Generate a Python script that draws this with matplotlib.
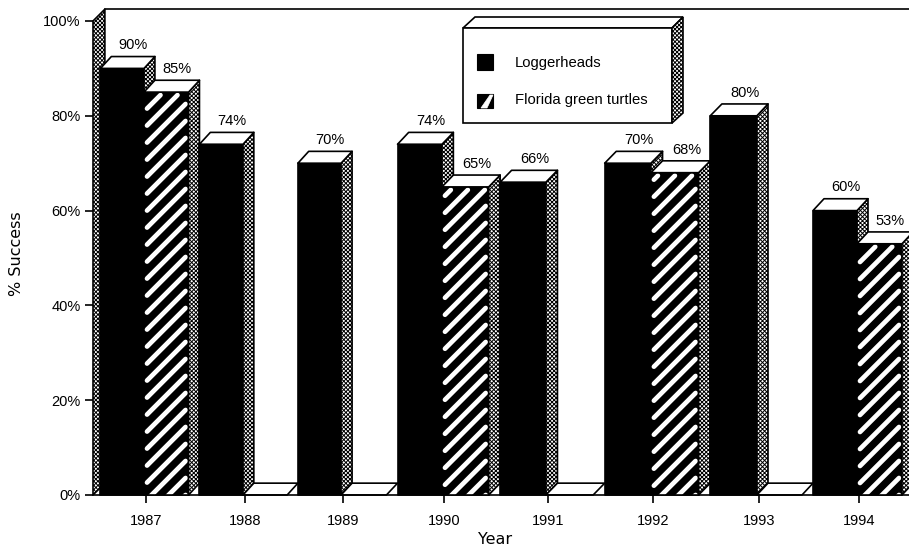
import numpy as np
import matplotlib
matplotlib.use('Agg')
import matplotlib.pyplot as plt
from matplotlib.patches import Polygon
from matplotlib.transforms import IdentityTransform

plt.rcParams['font.family'] = ['Liberation Sans', 'DejaVu Sans']
plt.rcParams['hatch.linewidth'] = 0.7

years = [1987, 1988, 1989, 1990, 1991, 1992, 1993, 1994]
loggerheads = [90, 74, 70, 74, 66, 70, 80, 60]
green_turtles = [85, 0, 0, 65, 0, 68, 0, 53]
logger_labels = ['90%', '74%', '70%', '74%', '66%', '70%', '80%', '60%']
green_labels = ['85%', '', '', '65%', '', '68%', '', '53%']
y_ticks = [0, 20, 40, 60, 80, 100]

# the scan is stretched unevenly, so the year axis follows the printed ticks
scale_years = [1986, 1987, 1988, 1989, 1990, 1991, 1992, 1993, 1994, 1995]
scale_px = [47, 146, 245, 343, 444, 548, 653, 759, 859, 959]


def year_to_px(v):
    return np.interp(v, scale_years, scale_px)


def px_to_year(v):
    return np.interp(v, scale_px, scale_years)


W, H = 909, 550
LEFT, RIGHT, TOP, BOTTOM = 93, 909, 21, 495
DX, DY = 0.11, 2.5

fig = plt.figure(figsize=(W / 100, H / 100), dpi=100)
ax = fig.add_axes([LEFT / W, 1 - BOTTOM / H, (RIGHT - LEFT) / W, (BOTTOM - TOP) / H])
ax.set_xscale('function', functions=(year_to_px, px_to_year))
x0, x1 = float(px_to_year(LEFT)), float(px_to_year(RIGHT))
ax.set_xlim(x0, x1)
ax.set_ylim(0, 100)


def stipple(p):
    p.set_hatch('xxxxxxxx')
    return p


def poly(points, **kw):
    p = Polygon(points, closed=True, clip_on=False, joinstyle='round', **kw)
    ax.add_patch(p)
    return p


def stripes(a, b, v, clip):
    # white diagonal stripes with round ends, laid out in display pixels
    xa, y0 = ax.transData.transform((a, 0))
    xb, yt = ax.transData.transform((b, v))
    xa, xb, yt = xa + 3, xb - 3, yt - 3
    for c in np.arange(y0 - xb - 17 * 3, yt - xa, 17.0):
        s = max(xa, y0 - 8 - c)
        e = min(xb, yt - c)
        if e > s:
            line = ax.plot([s, e], [s + c, e + c], color='white', lw=3.4,
                           solid_capstyle='round', transform=IdentityTransform())[0]
            line.set_clip_path(clip)


# left wall and back line
stipple(poly([(x0, 0), (x0, 100), (x0 + 0.12, 100 + DY), (x0 + 0.12, DY)],
             facecolor='white', edgecolor='black', linewidth=1.2))
ax.plot([x0 + 0.12, x1], [100 + DY, 100 + DY], color='black', lw=1.2, clip_on=False)


def bar3d(a, b, v, hatched, label, z):
    if v > 0:
        front = poly([(a, 0), (a, v), (b, v), (b, 0)], facecolor='black',
                     edgecolor='black', linewidth=1.2, zorder=z)
        if hatched:
            stripes(a, b, v, front)
            for line in ax.lines[-30:]:
                if line.get_clip_path() is not None and line.get_zorder() == 2:
                    line.set_zorder(z + 0.1)
        stipple(poly([(b, 0), (b, v), (b + DX, v + DY), (b + DX, DY)],
                     facecolor='white', edgecolor='black', linewidth=1.2, zorder=z + 0.2))
    poly([(a, v), (a + DX, v + DY), (b + DX, v + DY), (b, v)],
         facecolor='white', edgecolor='black', linewidth=1.2, zorder=z + 0.2)
    if label:
        ax.text((a + b) / 2 + DX, v + DY + 0.9, label, ha='center', va='bottom',
                fontsize=10.5, clip_on=False, zorder=20)


z = 2
for i, yr in enumerate(years):
    bar3d(yr - 0.46, yr - 0.02, loggerheads[i], False, logger_labels[i], z + 0.3)
    bar3d(yr - 0.02, yr + 0.43, green_turtles[i], True, green_labels[i], z + 0.6)
    z += 1

for s in ['top', 'right', 'left']:
    ax.spines[s].set_visible(False)
ax.spines['bottom'].set_linewidth(1.2)
ax.spines['bottom'].set_bounds(x0, x1)
ax.spines['bottom'].set_zorder(30)

ax.set_xticks(years)
ax.set_xticklabels([str(y) for y in years], fontsize=10.5)
ax.set_yticks(y_ticks)
ax.set_yticklabels([str(v) + '%' for v in y_ticks], fontsize=10.5)
ax.minorticks_off()
ax.tick_params(axis='x', length=6, width=1.2, pad=8)
ax.tick_params(axis='y', length=6, width=1.2, pad=3)

fig.text(495 / W, 1 - 540 / H, 'Year', ha='center', va='center', fontsize=11.5,
         family=['DejaVu Sans'])
fig.text(17 / W, 1 - 254 / H, '% Success', rotation=90, ha='center', va='center',
         fontsize=11.5, family=['DejaVu Sans'])


# legend box, placed in figure pixels
def fp(pts):
    return [(x / W, 1 - y / H) for x, y in pts]


def fpoly(pts, **kw):
    p = Polygon(fp(pts), closed=True, transform=fig.transFigure, **kw)
    fig.add_artist(p)
    return p


fpoly([(463, 28), (475, 17), (683, 17), (672, 28)], facecolor='white', edgecolor='black', linewidth=1.2)
fpoly([(463, 28), (672, 28), (672, 123), (463, 123)], facecolor='white', edgecolor='black', linewidth=1.2)
stipple(fpoly([(672, 28), (683, 17), (683, 113), (672, 123)], facecolor='white', edgecolor='black', linewidth=1.2))
fpoly([(477, 54), (493, 54), (493, 70), (477, 70)], facecolor='black', edgecolor='black', linewidth=0.8)
fpoly([(477, 94), (493, 94), (493, 108), (477, 108)], facecolor='black', edgecolor='black', linewidth=0.8)
fpoly([(481, 108), (490, 95), (493, 95), (487, 108)], facecolor='white', edgecolor='white', linewidth=0.5)
fig.text(515 / W, 1 - 63 / H, 'Loggerheads', va='center', fontsize=10.7)
fig.text(515 / W, 1 - 100 / H, 'Florida green turtles', va='center', fontsize=10.7)

fig.savefig('out.png', dpi=100)
